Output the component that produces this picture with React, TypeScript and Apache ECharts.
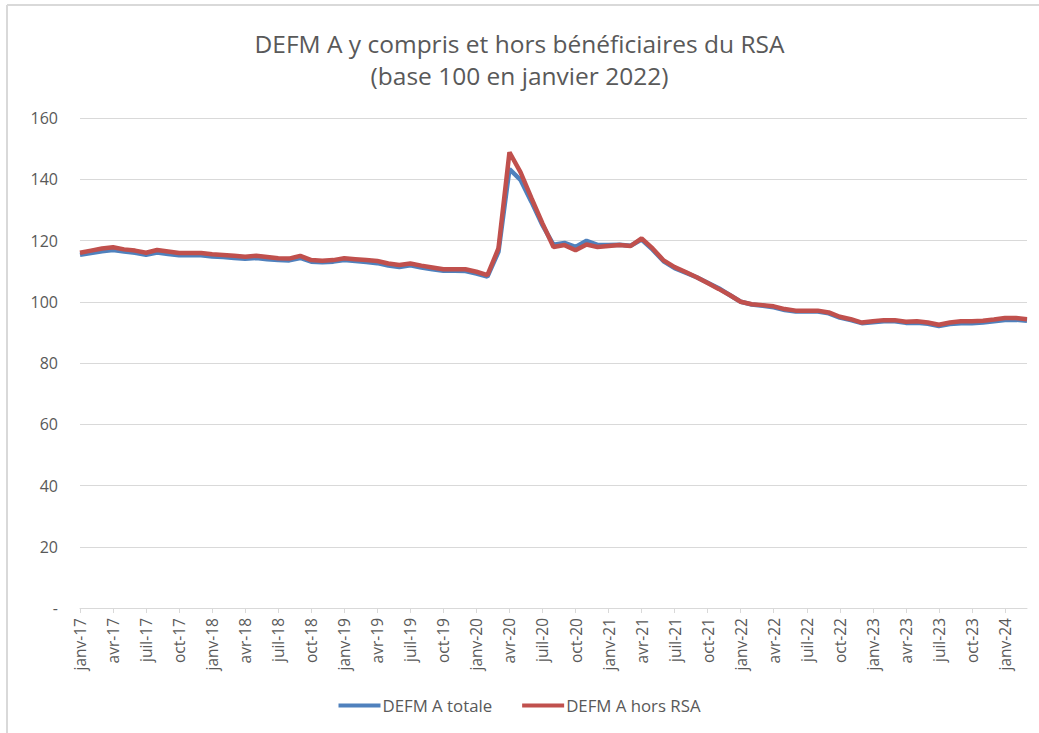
import React, { useEffect, useRef } from "react";
import * as echarts from "echarts";

const monthNames = ["janv", "févr", "mars", "avr", "mai", "juin", "juil", "août", "sept", "oct", "nov", "déc"];
const startYear = 17;
const monthCount = 87; // janv-17 .. mars-24

const categories: string[] = [];
for (let i = 0; i < monthCount; i++) {
  const y = startYear + Math.floor(i / 12);
  categories.push(`${monthNames[i % 12]}-${y}`);
}

const totale = [
  115.3, 115.9, 116.5, 116.9, 116.4, 116.0, 115.3, 116.1, 115.6, 115.2, 115.2, 115.2,
  114.8, 114.6, 114.3, 114.0, 114.3, 113.9, 113.6, 113.5, 114.3, 113.1, 112.9, 113.1,
  113.6, 113.3, 113.0, 112.6, 111.8, 111.3, 111.9, 111.2, 110.6, 110.1, 110.1, 110.0,
  109.2, 108.2, 116.3, 143.3, 139.8, 132.6, 125.0, 118.6, 119.2, 117.9, 119.9, 118.6,
  118.5, 118.6, 118.3, 120.3, 117.0, 113.2, 111.0, 109.5, 108.0, 106.2, 104.4, 102.2,
  100.0, 99.1, 98.7, 98.2, 97.3, 96.8, 96.8, 96.8, 96.2, 94.8, 94.0, 93.0,
  93.3, 93.6, 93.6, 93.1, 93.1, 92.8, 92.1, 92.7, 93.0, 93.0, 93.2, 93.6,
  94.0, 94.1, 93.8,
];

const horsRSA = [
  116.0, 116.7, 117.4, 117.8, 117.1, 116.7, 116.0, 116.9, 116.4, 115.9, 115.9, 115.9,
  115.5, 115.3, 115.0, 114.7, 115.0, 114.6, 114.2, 114.1, 115.0, 113.6, 113.4, 113.6,
  114.2, 113.9, 113.6, 113.3, 112.5, 112.0, 112.5, 111.8, 111.2, 110.6, 110.6, 110.6,
  109.8, 108.7, 117.4, 148.8, 142.3, 133.8, 125.6, 117.9, 118.5, 116.8, 118.7, 117.9,
  118.2, 118.5, 118.2, 120.7, 117.4, 113.5, 111.3, 109.7, 108.0, 106.1, 104.2, 102.2,
  100.0, 99.2, 98.9, 98.5, 97.6, 97.1, 97.1, 97.1, 96.5, 95.1, 94.3, 93.2,
  93.6, 94.0, 94.0, 93.5, 93.6, 93.2, 92.5, 93.2, 93.6, 93.6, 93.8, 94.2,
  94.7, 94.7, 94.3,
];

const seriesNames = ["DEFM A totale", "DEFM A hors RSA"];
const titleLines = ["DEFM A y compris et hors bénéficiaires du RSA", "(base 100 en janvier 2022)"];

export default function App() {
  const ref = useRef<HTMLDivElement>(null);
  useEffect(() => {
    if (!ref.current) return;
    const chart = echarts.init(ref.current, null, { renderer: "svg" });
    const font = "'Open Sans', 'Noto Sans', sans-serif";
    const gray = "#595959";
    chart.setOption({
      animation: false,
      backgroundColor: "#ffffff",
      textStyle: { fontFamily: font },
      title: {
        text: titleLines.join("\n"),
        left: "center",
        top: 22,
        textStyle: { fontFamily: font, fontSize: 24.5, fontWeight: "normal", color: gray, lineHeight: 32 },
      },
      graphic: [
        { type: "line", shape: { x1: 7, y1: 5, x2: 1039, y2: 5 }, style: { stroke: "#d9d9d9", lineWidth: 2 } },
        { type: "line", shape: { x1: 7, y1: 5, x2: 7, y2: 733 }, style: { stroke: "#d9d9d9", lineWidth: 2 } },
      ],
      legend: {
        data: seriesNames,
        bottom: 14,
        left: "center",
        itemWidth: 42,
        itemHeight: 4,
        itemGap: 30,
        icon: "rect",
        textStyle: { fontFamily: font, fontSize: 16.8, color: gray, padding: [0, 0, 0, -3] },
      },
      grid: { left: 80, right: 12, top: 118, bottom: 125, containLabel: false },
      xAxis: {
        type: "category",
        data: categories,
        boundaryGap: false,
        axisLine: { lineStyle: { color: "#d9d9d9" } },
        axisTick: { interval: 2, length: 5, lineStyle: { color: "#d9d9d9" } },
        axisLabel: { interval: 2, rotate: 90, fontSize: 15.5, color: gray, margin: 10, fontFamily: font },
        splitLine: { show: false },
      },
      yAxis: {
        type: "value",
        min: 0,
        max: 160,
        interval: 20,
        axisLine: { show: false },
        axisTick: { show: false },
        axisLabel: {
          fontSize: 16,
          color: gray,
          margin: 22,
          fontFamily: font,
          formatter: (v: number) => (v === 0 ? "-" : String(v)),
        },
        splitLine: { lineStyle: { color: "#d9d9d9", width: 1 } },
      },
      series: [
        {
          name: seriesNames[0],
          type: "line",
          data: totale,
          showSymbol: false,
          symbol: "none",
          lineStyle: { color: "#4F81BD", width: 4.5 },
          itemStyle: { color: "#4F81BD" },
        },
        {
          name: seriesNames[1],
          type: "line",
          data: horsRSA,
          showSymbol: false,
          symbol: "none",
          lineStyle: { color: "#C0504D", width: 4.5 },
          itemStyle: { color: "#C0504D" },
        },
      ],
    });
    return () => chart.dispose();
  }, []);
  return (
    <div
      ref={ref}
      style={{ position: "absolute", left: 0, top: 0, width: 1039, height: 733, background: "#fff" }}
    />
  );
}
